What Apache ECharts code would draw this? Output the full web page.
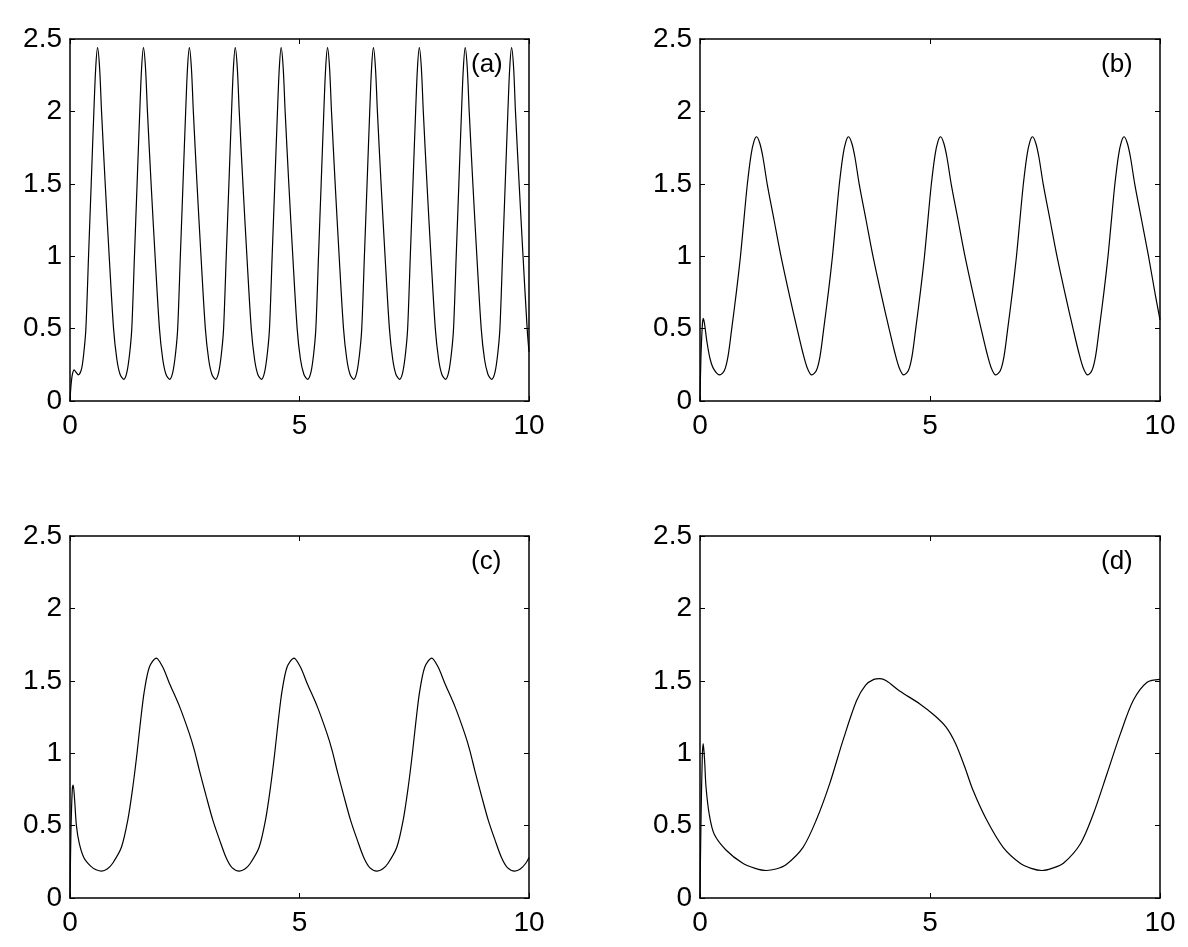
<!DOCTYPE html>
<html>
<head>
<meta charset="utf-8">
<script src="https://cdn.jsdelivr.net/npm/echarts@6/dist/echarts.min.js"></script>
<style>
  html, body { margin: 0; padding: 0; background: #fff; }
  #chart { width: 1188px; height: 947px; }
</style>
</head>
<body>
<div id="chart"></div>
<script>
// values, [t, y]
const curveA = [
  [0,0],[0.02,0.1],[0.05,0.18],[0.09,0.215],[0.13,0.2],[0.18,0.18],[0.25,0.22],[0.30,0.33],[0.346,0.5],[0.404,1.0],[0.462,1.5],[0.52,2.0],[0.56,2.3],[0.60,2.44],
  [0.645,2.3],[0.687,2.0],[0.767,1.5],[0.854,1.0],[0.949,0.5],[1.02,0.29],[1.09,0.185],[1.17,0.15],[1.24,0.2],[1.30,0.33],[1.346,0.5],[1.404,1.0],[1.462,1.5],[1.52,2.0],[1.56,2.3],[1.60,2.44],
  [1.645,2.3],[1.687,2.0],[1.767,1.5],[1.854,1.0],[1.949,0.5],[2.02,0.29],[2.09,0.185],[2.17,0.15],[2.24,0.2],[2.30,0.33],[2.346,0.5],[2.404,1.0],[2.462,1.5],[2.52,2.0],[2.56,2.3],[2.60,2.44],
  [2.645,2.3],[2.687,2.0],[2.767,1.5],[2.854,1.0],[2.949,0.5],[3.02,0.29],[3.09,0.185],[3.17,0.15],[3.24,0.2],[3.30,0.33],[3.346,0.5],[3.404,1.0],[3.462,1.5],[3.52,2.0],[3.56,2.3],[3.60,2.44],
  [3.645,2.3],[3.687,2.0],[3.767,1.5],[3.854,1.0],[3.949,0.5],[4.02,0.29],[4.09,0.185],[4.17,0.15],[4.24,0.2],[4.30,0.33],[4.346,0.5],[4.404,1.0],[4.462,1.5],[4.52,2.0],[4.56,2.3],[4.60,2.44],
  [4.645,2.3],[4.687,2.0],[4.767,1.5],[4.854,1.0],[4.949,0.5],[5.02,0.29],[5.095,0.185],[5.175,0.15],[5.25,0.2],[5.31,0.33],[5.356,0.5],[5.414,1.0],[5.472,1.5],[5.53,2.0],[5.57,2.3],[5.61,2.44],
  [5.655,2.3],[5.697,2.0],[5.777,1.5],[5.864,1.0],[5.959,0.5],[6.03,0.29],[6.10,0.185],[6.18,0.15],[6.25,0.2],[6.31,0.33],[6.356,0.5],[6.414,1.0],[6.472,1.5],[6.53,2.0],[6.57,2.3],[6.61,2.44],
  [6.655,2.3],[6.697,2.0],[6.777,1.5],[6.864,1.0],[6.959,0.5],[7.03,0.29],[7.10,0.185],[7.18,0.15],[7.25,0.2],[7.31,0.33],[7.356,0.5],[7.414,1.0],[7.472,1.5],[7.53,2.0],[7.57,2.3],[7.61,2.44],
  [7.655,2.3],[7.697,2.0],[7.777,1.5],[7.864,1.0],[7.959,0.5],[8.03,0.29],[8.10,0.185],[8.18,0.15],[8.25,0.2],[8.31,0.33],[8.356,0.5],[8.414,1.0],[8.472,1.5],[8.53,2.0],[8.57,2.3],[8.61,2.44],
  [8.655,2.3],[8.697,2.0],[8.777,1.5],[8.864,1.0],[8.959,0.5],[9.03,0.29],[9.105,0.185],[9.185,0.15],[9.26,0.2],[9.32,0.33],[9.366,0.5],[9.424,1.0],[9.482,1.5],[9.54,2.0],[9.58,2.3],[9.62,2.44],
  [9.665,2.3],[9.705,2.0],[9.785,1.5],[9.87,1.0],[9.96,0.5],[10,0.34]
];

const curveB = [
  [0,0],[0.02,0.3],[0.05,0.52],[0.07,0.57],[0.1,0.53],[0.15,0.41],[0.22,0.29],[0.3,0.22],[0.43,0.18],
  [0.53,0.21],[0.61,0.31],[0.69,0.5],[0.79,0.75],[0.88,1.0],[0.96,1.27],[1.03,1.5],[1.11,1.7],[1.17,1.79],[1.23,1.825],
  [1.30,1.78],[1.37,1.68],[1.46,1.5],[1.61,1.25],[1.76,1.0],[1.93,0.75],[2.11,0.5],[2.23,0.34],[2.33,0.23],[2.43,0.18],
  [2.53,0.21],[2.61,0.31],[2.69,0.5],[2.79,0.75],[2.88,1.0],[2.96,1.27],[3.03,1.5],[3.11,1.7],[3.17,1.79],[3.23,1.825],
  [3.30,1.78],[3.37,1.68],[3.46,1.5],[3.61,1.25],[3.76,1.0],[3.93,0.75],[4.11,0.5],[4.23,0.34],[4.33,0.23],[4.43,0.18],
  [4.53,0.21],[4.61,0.31],[4.69,0.5],[4.79,0.75],[4.88,1.0],[4.96,1.27],[5.03,1.5],[5.11,1.7],[5.17,1.79],[5.23,1.825],
  [5.30,1.78],[5.37,1.68],[5.46,1.5],[5.61,1.25],[5.76,1.0],[5.93,0.75],[6.11,0.5],[6.23,0.34],[6.33,0.23],[6.43,0.18],
  [6.53,0.21],[6.61,0.31],[6.69,0.5],[6.79,0.75],[6.88,1.0],[6.96,1.27],[7.03,1.5],[7.11,1.7],[7.17,1.79],[7.23,1.825],
  [7.30,1.78],[7.37,1.68],[7.46,1.5],[7.61,1.25],[7.76,1.0],[7.93,0.75],[8.11,0.5],[8.23,0.34],[8.33,0.23],[8.43,0.18],
  [8.52,0.21],[8.60,0.31],[8.68,0.5],[8.78,0.75],[8.87,1.0],[8.95,1.27],[9.02,1.5],[9.10,1.7],[9.16,1.79],[9.22,1.825],
  [9.29,1.78],[9.36,1.68],[9.45,1.5],[9.60,1.25],[9.75,1.0],[9.90,0.73],[10,0.56]
];

const curveC = [
  [0,0],[0.02,0.45],[0.05,0.75],[0.07,0.78],[0.1,0.68],[0.14,0.5],[0.2,0.38],[0.3,0.28],[0.45,0.22],[0.57,0.195],[0.69,0.186],
  [0.81,0.2],[0.93,0.24],[1.12,0.35],[1.26,0.54],[1.37,0.77],[1.46,1.0],[1.54,1.23],[1.62,1.43],[1.73,1.595],[1.88,1.657],
  [2.02,1.595],[2.17,1.48],[2.39,1.32],[2.60,1.135],[2.71,1.02],[2.82,0.88],[2.97,0.70],[3.11,0.54],[3.26,0.40],[3.40,0.28],[3.53,0.21],[3.69,0.186],
  [3.81,0.2],[3.93,0.24],[4.12,0.35],[4.26,0.54],[4.37,0.77],[4.46,1.0],[4.54,1.23],[4.62,1.43],[4.73,1.595],[4.88,1.657],
  [5.02,1.595],[5.17,1.48],[5.39,1.32],[5.60,1.135],[5.71,1.02],[5.82,0.88],[5.97,0.70],[6.11,0.54],[6.26,0.40],[6.40,0.28],[6.53,0.21],[6.69,0.186],
  [6.81,0.2],[6.93,0.24],[7.12,0.35],[7.26,0.54],[7.37,0.77],[7.46,1.0],[7.54,1.23],[7.62,1.43],[7.73,1.595],[7.88,1.657],
  [8.02,1.595],[8.17,1.48],[8.39,1.32],[8.60,1.135],[8.71,1.02],[8.82,0.88],[8.97,0.70],[9.11,0.54],[9.26,0.40],[9.40,0.28],[9.53,0.21],[9.69,0.186],
  [9.81,0.2],[9.93,0.24],[10,0.28]
];

const curveD = [
  [0,0],[0.02,0.5],[0.05,0.98],[0.07,1.066],[0.1,0.95],[0.13,0.77],[0.2,0.58],[0.31,0.44],[0.57,0.33],[0.93,0.24],[1.2,0.205],[1.44,0.19],[1.65,0.2],
  [1.87,0.23],[2.24,0.35],[2.53,0.54],[2.82,0.79],[3.11,1.09],[3.40,1.36],[3.6,1.47],[3.78,1.51],[3.91,1.515],[4.05,1.5],[4.34,1.43],[4.78,1.34],
  [5.1,1.26],[5.35,1.18],[5.55,1.07],[5.75,0.91],[5.94,0.74],[6.23,0.54],[6.59,0.35],[6.96,0.24],[7.2,0.205],[7.43,0.19],[7.65,0.205],[7.9,0.24],[8.27,0.375],
  [8.55,0.58],[8.85,0.86],[9.14,1.135],[9.42,1.365],[9.72,1.49],[10,1.51]
];

const panelLabels = ['(a)', '(b)', '(c)', '(d)'];
const curves = [curveA, curveB, curveC, curveD];

const font = "'Liberation Sans', Arial, Helvetica, sans-serif";
const grids = [
  {left: 70, top: 39, width: 459, height: 362},
  {left: 700, top: 39, width: 460, height: 362},
  {left: 70, top: 536, width: 459, height: 362},
  {left: 700, top: 536, width: 460, height: 362}
];

const axLine = {show: true, onZero: false, lineStyle: {color: '#000', width: 1.5}};
const tick = {show: true, inside: true, length: 5, lineStyle: {color: '#000', width: 1}};
const xLbl = {show: true, color: '#000', fontSize: 28, fontFamily: font, margin: 11};
const yLbl = {show: true, color: '#000', fontSize: 28, fontFamily: font, margin: 8};

let xAxis = [], yAxis = [], series = [], title = [];
grids.forEach((g, i) => {
  xAxis.push({gridIndex: i, type: 'value', min: 0, max: 10, interval: 5, position: 'bottom',
    axisLine: axLine, axisTick: tick, axisLabel: xLbl, splitLine: {show: false}});
  xAxis.push({gridIndex: i, type: 'value', min: 0, max: 10, interval: 5, position: 'top',
    axisLine: axLine, axisTick: tick, axisLabel: {show: false}, splitLine: {show: false}});
  yAxis.push({gridIndex: i, type: 'value', min: 0, max: 2.5, interval: 0.5, position: 'left',
    axisLine: axLine, axisTick: tick, axisLabel: yLbl, splitLine: {show: false}});
  yAxis.push({gridIndex: i, type: 'value', min: 0, max: 2.5, interval: 0.5, position: 'right',
    axisLine: axLine, axisTick: tick, axisLabel: {show: false}, splitLine: {show: false}});
  series.push({
    type: 'line', xAxisIndex: 2 * i, yAxisIndex: 2 * i, data: curves[i],
    showSymbol: false, smooth: 0.3,
    lineStyle: {color: '#000', width: 1.2}
  });
  title.push({
    text: panelLabels[i], left: g.left + 396, top: g.top + 8,
    textStyle: {fontSize: 26, fontWeight: 'normal', color: '#000', fontFamily: font}
  });
});

const chart = echarts.init(document.getElementById('chart'));
chart.setOption({
  animation: false,
  backgroundColor: '#fff',
  title: title,
  grid: grids,
  xAxis: xAxis,
  yAxis: yAxis,
  series: series
});
</script>
</body>
</html>
